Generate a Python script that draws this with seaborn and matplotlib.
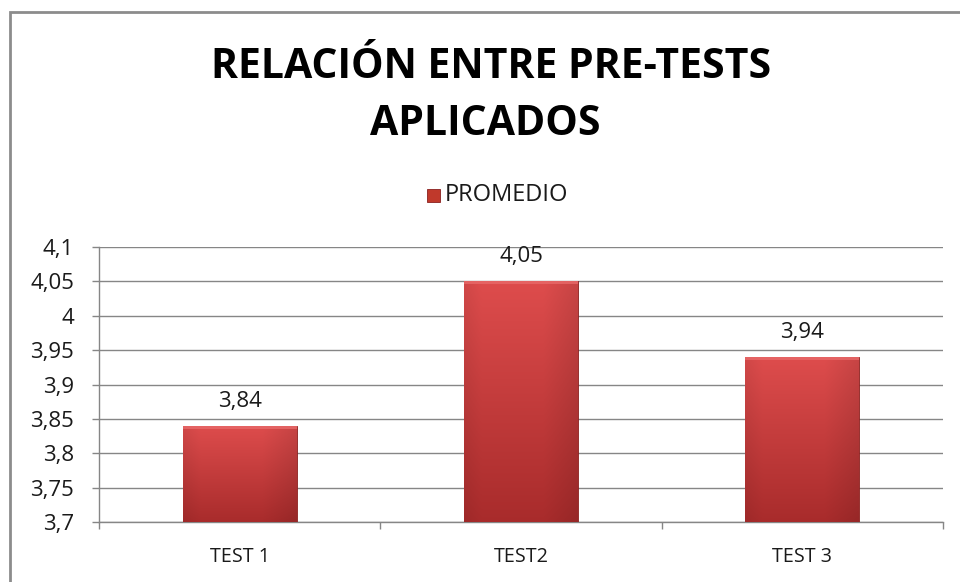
import matplotlib
matplotlib.use("Agg")
import matplotlib.pyplot as plt
import seaborn as sns
import numpy as np
import pandas as pd
from matplotlib.ticker import FuncFormatter, FixedLocator
from matplotlib.patches import Rectangle

categories = ["TEST 1", "TEST2", "TEST 3"]
values = [3.84, 4.05, 3.94]
series_name = "PROMEDIO"
title_lines = ["RELACIÓN ENTRE PRE-TESTS", "APLICADOS"]
y_ticks = [3.7, 3.75, 3.8, 3.85, 3.9, 3.95, 4.0, 4.05, 4.1]

sns.set_theme(style="white")
plt.rcParams['font.family'] = ['Open Sans', 'DejaVu Sans']

df = pd.DataFrame({"test": categories, "valor": values})

fig = plt.figure(figsize=(9.6, 5.82), dpi=100)
ax = fig.add_axes([99/960, 1-522/582, (943-99)/960, (522-247)/582])

sns.barplot(data=df, x="test", y="valor", ax=ax, color="#c0392b", width=0.405,
            saturation=1, edgecolor="#8a2020", linewidth=0.6, zorder=3)

ymin, ymax = 3.7, 4.1
ax.set_ylim(ymin, ymax)
ax.set_xlim(-0.5, len(categories) - 0.5)

# gradient fill for bars
grad_v = np.linspace(0, 1, 256)[:, None]
grad_h = np.linspace(0, 1, 64)[None, :]
top = np.array([0.87, 0.30, 0.30])
bot = np.array([0.66, 0.17, 0.17])
img = top[None, None, :] * (1 - grad_v[..., None]) + bot[None, None, :] * grad_v[..., None]
shade = 1 - 0.10 * np.clip((grad_h - 0.7) / 0.3, 0, 1) - 0.06 * np.clip((0.15 - grad_h) / 0.15, 0, 1)
img = np.clip(img * shade[..., None], 0, 1)
for p in ax.patches:
    x0 = p.get_x(); w = p.get_width(); h = p.get_height()
    im = ax.imshow(img, extent=[x0, x0 + w, ymin, h], origin="upper",
                   aspect="auto", zorder=3.5, interpolation="bilinear")
    im.set_clip_path(p)
    ax.add_patch(Rectangle((x0, h - 0.004), w, 0.004, facecolor="#e86a6a",
                           edgecolor="none", zorder=3.6, alpha=0.8))
ax.set_xlim(-0.5, len(categories) - 0.5)
ax.set_ylim(ymin, ymax)

fmt = lambda v, pos=None: (f"{v:.2f}".rstrip("0").rstrip(".")).replace(".", ",")
ax.yaxis.set_major_locator(FixedLocator(y_ticks))
ax.yaxis.set_major_formatter(FuncFormatter(fmt))

ax.grid(axis="y", color="#868686", linewidth=1, zorder=0)
ax.set_axisbelow(True)
for s in ["top", "right"]:
    ax.spines[s].set_visible(False)
for s in ["left", "bottom"]:
    ax.spines[s].set_color("#868686")
    ax.spines[s].set_linewidth(1)

ax.tick_params(axis="y", which="major", length=5, color="#868686", width=1,
               labelsize=16, labelcolor="#1a1a1a", pad=13, left=True)
ax.tick_params(axis="x", which="major", length=0, labelsize=14.2,
               labelcolor="#1a1a1a", pad=18)
ax.set_xticks(np.arange(-0.5, len(categories)), minor=True)
ax.tick_params(axis="x", which="minor", length=5, color="#868686", width=1, bottom=True)
ax.set_xlabel("")
ax.set_ylabel("")

for i, v in enumerate(values):
    ax.annotate(fmt(v), (i, v), xytext=(0, 10), textcoords="offset points",
                ha="center", va="bottom", fontsize=16, color="#1a1a1a")

fig.text(491/960, 1-78/582, title_lines[0], ha="center", va="baseline", fontsize=29.5,
         fontweight="bold", color="#000000")
fig.text(485/960, 1-135/582, title_lines[1], ha="center", va="baseline", fontsize=29.5,
         fontweight="bold", color="#000000")

# legend
fig.patches.append(Rectangle((427/960, 1-202/582), 13/960, 13/582,
                             transform=fig.transFigure, facecolor="#c0392b",
                             edgecolor="#8a2020", linewidth=0.6))
fig.text(445/960, 1-195/582, series_name, ha="left", va="center",
         fontsize=17, color="#1a1a1a")

# chart border
fig.patches.append(Rectangle((10/960, -0.1), 1.2, 1 - 12/582 + 0.1,
                             transform=fig.transFigure, facecolor="none",
                             edgecolor="#8c8c8c", linewidth=2))

fig.savefig("out.png", dpi=100)
